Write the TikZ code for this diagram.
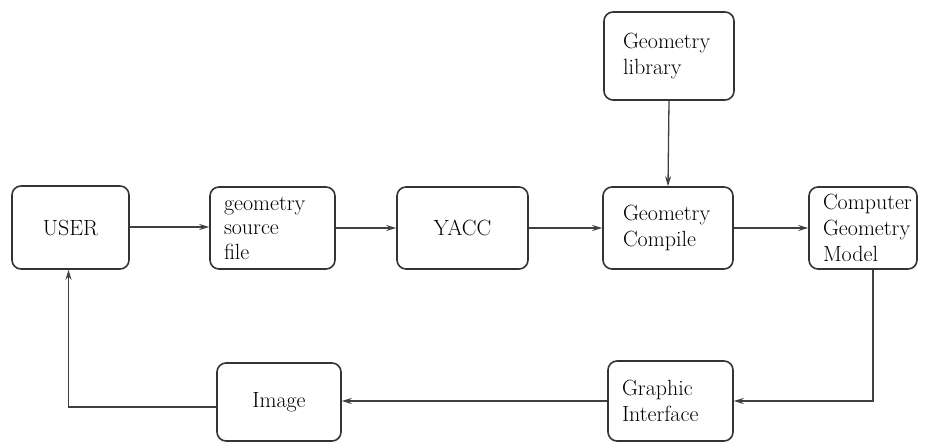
\documentclass[tikz,border=0pt]{standalone}
\usetikzlibrary{arrows.meta}
\begin{document}
\begin{tikzpicture}[x=1pt,y=-1pt,
  box/.style={draw=black!80, line width=1.6pt, rounded corners=9pt,
    font=\fontsize{22}{26}\selectfont, align=left, inner ysep=0pt},
  arr/.style={draw=black!75, line width=1.3pt, -{Stealth[length=10pt,width=6pt]}}]
\useasboundingbox (0,0) rectangle (928,446);

% main row
\node[box, minimum width=117pt, minimum height=83pt, align=center] (user) at (70.5,227.5) {USER};
\node[box, minimum width=125pt, minimum height=82pt, inner xsep=14pt, text width=97pt,
  font=\fontsize{22}{24.5}\selectfont] (geo) at (272.5,228) {geometry\\source\\file};
\node[box, minimum width=131pt, minimum height=82pt, align=center] (yacc) at (462.5,228) {YACC};
\node[box, minimum width=130pt, minimum height=82pt, inner xsep=20pt, text width=90pt] (gc) at (668,228) {Geometry\\Compile};
\node[box, minimum width=108pt, minimum height=82pt, inner xsep=14pt, text width=80pt] (cgm) at (863,228) {Computer\\Geometry\\Model};

% library above
\node[box, minimum width=130pt, minimum height=88pt, inner xsep=19pt, text width=92pt] (lib) at (669,56) {Geometry\\library};

% bottom row
\node[box, minimum width=125pt, minimum height=80pt, inner xsep=14pt, text width=97pt] (gi) at (670.5,401) {Graphic\\Interface};
\node[box, minimum width=124pt, minimum height=78pt, align=center] (img) at (279,402) {Image};

% connectors
\draw[arr] ([yshift=0.5pt]user.east) -- ([yshift=0.5pt]user.east -| geo.west);
\draw[arr] (geo.east) -- (geo.east -| yacc.west);
\draw[arr] (yacc.east) -- (yacc.east -| gc.west);
\draw[arr] (gc.east) -- (gc.east -| cgm.west);
\draw[arr] (lib.south) -- (gc.north);
\coordinate (cgmout) at ([xshift=10pt]cgm.south);
\draw[arr] (cgmout) |- (gi.east);
\draw[arr] (gi.west) -- (gi.west -| img.east);
\coordinate (imgout) at ([yshift=-5pt]img.west);
\draw[arr] (imgout) -| ([xshift=-2pt]user.south);
\end{tikzpicture}
\end{document}
